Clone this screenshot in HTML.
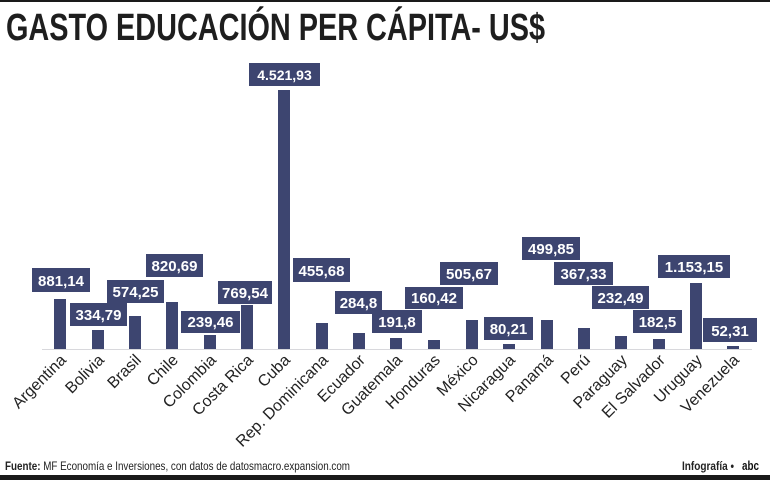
<!DOCTYPE html>
<html><head><meta charset="utf-8"><style>
html,body{margin:0;padding:0;background:#fff;}
svg{display:block;}
</style></head><body>
<svg width="770" height="480" viewBox="0 0 770 480" xmlns="http://www.w3.org/2000/svg" font-family="'Liberation Sans Narrow','Liberation Sans',sans-serif">
<rect x="0" y="0" width="770" height="2" fill="#1a1a1a"/>
<text x="6" y="40" font-size="38" font-weight="bold" fill="#1e1e1e" textLength="539" lengthAdjust="spacingAndGlyphs">GASTO EDUCACIÓN PER CÁPITA- US$</text>
<line x1="42" y1="349.5" x2="752" y2="349.5" stroke="#d8d8dc" stroke-width="1"/>
<g fill="#3d4570">
<rect x="54" y="299" width="12" height="50"/>
<rect x="92" y="330" width="12" height="19"/>
<rect x="129" y="316" width="12" height="33"/>
<rect x="166" y="302" width="12" height="47"/>
<rect x="204" y="335" width="12" height="14"/>
<rect x="241" y="305" width="12" height="44"/>
<rect x="278" y="90" width="12" height="259"/>
<rect x="316" y="323" width="12" height="26"/>
<rect x="353" y="333" width="12" height="16"/>
<rect x="390" y="338" width="12" height="11"/>
<rect x="428" y="340" width="12" height="9"/>
<rect x="466" y="320" width="12" height="29"/>
<rect x="503" y="344" width="12" height="5"/>
<rect x="541" y="320" width="12" height="29"/>
<rect x="578" y="328" width="12" height="21"/>
<rect x="615" y="336" width="12" height="13"/>
<rect x="653" y="339" width="12" height="10"/>
<rect x="690" y="283" width="12" height="66"/>
<rect x="727" y="346" width="12" height="3"/>
</g>
<g fill="#3d4570">
<rect x="32" y="268" width="58" height="24"/>
<rect x="70" y="303" width="57" height="23"/>
<rect x="107" y="280" width="57" height="23"/>
<rect x="146" y="254" width="57" height="23"/>
<rect x="181" y="311" width="59" height="22"/>
<rect x="218" y="281" width="54" height="23"/>
<rect x="249" y="63" width="71" height="23"/>
<rect x="293" y="258" width="57" height="24"/>
<rect x="335" y="291" width="47" height="23"/>
<rect x="372" y="310" width="50" height="23"/>
<rect x="405" y="287" width="58" height="22"/>
<rect x="440" y="262" width="58" height="23"/>
<rect x="484" y="317" width="49" height="23"/>
<rect x="522" y="237" width="58" height="23"/>
<rect x="554" y="262" width="59" height="23"/>
<rect x="592" y="286" width="57" height="23"/>
<rect x="633" y="310" width="49" height="23"/>
<rect x="658" y="255" width="72" height="23"/>
<rect x="703" y="318" width="54" height="24"/>
</g>
<g fill="#fff" font-family="'Liberation Sans',sans-serif" font-weight="bold" font-size="15" text-anchor="middle">
<text x="61" y="286">881,14</text>
<text x="98.5" y="320">334,79</text>
<text x="135.5" y="297">574,25</text>
<text x="174.5" y="271">820,69</text>
<text x="210.5" y="327">239,46</text>
<text x="245" y="298">769,54</text>
<text x="284.5" y="80" font-size="14">4.521,93</text>
<text x="321.5" y="276">455,68</text>
<text x="358.5" y="308">284,8</text>
<text x="397" y="327">191,8</text>
<text x="434" y="303">160,42</text>
<text x="469" y="279">505,67</text>
<text x="508.5" y="334">80,21</text>
<text x="551" y="254">499,85</text>
<text x="583.5" y="279">367,33</text>
<text x="620.5" y="303">232,49</text>
<text x="657.5" y="327">182,5</text>
<text x="694" y="272">1.153,15</text>
<text x="730" y="336">52,31</text>
</g>
<g fill="#222" font-family="'Liberation Sans',sans-serif" font-size="16" text-anchor="end">
<text transform="translate(67,361) rotate(-45)">Argentina</text>
<text transform="translate(105,361) rotate(-45)">Bolivia</text>
<text transform="translate(142,361) rotate(-45)">Brasil</text>
<text transform="translate(179,361) rotate(-45)">Chile</text>
<text transform="translate(217,361) rotate(-45)">Colombia</text>
<text transform="translate(254,361) rotate(-45)">Costa Rica</text>
<text transform="translate(291,361) rotate(-45)">Cuba</text>
<text transform="translate(329,361) rotate(-45)">Rep. Dominicana</text>
<text transform="translate(366,361) rotate(-45)">Ecuador</text>
<text transform="translate(403,361) rotate(-45)">Guatemala</text>
<text transform="translate(441,361) rotate(-45)">Honduras</text>
<text transform="translate(479,361) rotate(-45)">México</text>
<text transform="translate(516,361) rotate(-45)">Nicaragua</text>
<text transform="translate(554,361) rotate(-45)">Panamá</text>
<text transform="translate(591,361) rotate(-45)">Perú</text>
<text transform="translate(628,361) rotate(-45)">Paraguay</text>
<text transform="translate(666,361) rotate(-45)">El Salvador</text>
<text transform="translate(703,361) rotate(-45)">Uruguay</text>
<text transform="translate(740,361) rotate(-45)">Venezuela</text>
</g>
<text x="5" y="470" font-size="12" fill="#222" textLength="345" lengthAdjust="spacingAndGlyphs"><tspan font-weight="bold">Fuente:</tspan> MF Economía e Inversiones, con datos de datosmacro.expansion.com</text>
<text x="682" y="470" font-size="12" font-weight="bold" fill="#222" textLength="52" lengthAdjust="spacingAndGlyphs">Infografía •</text>
<text x="742" y="470" font-size="13" font-weight="900" fill="#111" font-family="'Liberation Sans',sans-serif" textLength="17" lengthAdjust="spacingAndGlyphs">abc</text>
<rect x="0" y="475" width="770" height="5" fill="#1a1a1a"/>
</svg>
</body></html>
